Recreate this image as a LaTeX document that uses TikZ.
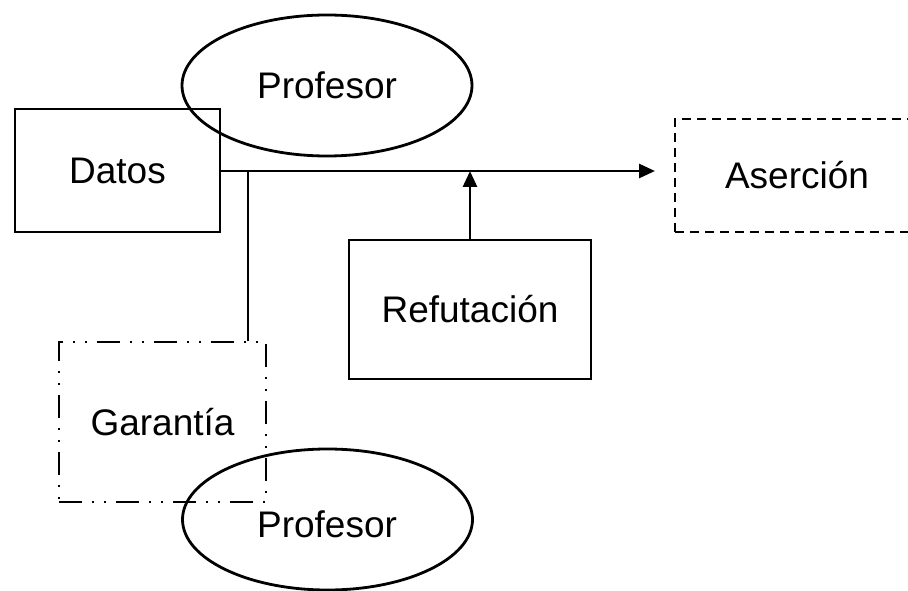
\documentclass[tikz,border=0pt]{standalone}
\usepackage{fontspec}
\setmainfont{Liberation Sans}
\usetikzlibrary{arrows.meta}
\usetikzlibrary{shapes}

\begin{document}
\begin{tikzpicture}[x=1pt, y=-1pt, line width=2.8pt,
  every node/.style={font=\fontsize{37}{44}\selectfont, inner sep=0pt},
  box/.style={shape=rectangle, draw},
  nube/.style={shape=ellipse, draw, minimum width=290pt, minimum height=141pt},
  flecha/.style={-{Triangle[length=16pt, width=14pt]}},
  rayas/.style={dash pattern=on 9pt off 6pt},
  rayapunto/.style={dash pattern=on 23pt off 10pt on 2pt off 10pt on 2pt off 10pt}]
\useasboundingbox (0,0) rectangle (908,591);
\node [box, minimum width=205pt, minimum height=123pt] (D) at (117.5,170.5) {Datos};
\node [nube] (P1) at (327,85.5) {Profesor};
\node [box, rayas, minimum width=244pt, minimum height=113pt] (A) at (797,175.5) {Aserción};
\node [box, minimum width=242pt, minimum height=139pt] (R) at (470,309.5) {Refutación};
\node [box, rayapunto, minimum width=207pt, minimum height=160pt] (G) at (162.5,422) {Garantía};
\node [nube] (P2) at (327.5,519.5) {};
\node (T2) at (327,524) {Profesor};
\coordinate (J) at (248,171);
\coordinate (F) at (655,171);
\draw [flecha] (D.east |- J) -- (F);
\draw (G.north -| J) -- (J);
\draw [flecha] (R.north) -- (R.north |- F);
\end{tikzpicture}
\end{document}
